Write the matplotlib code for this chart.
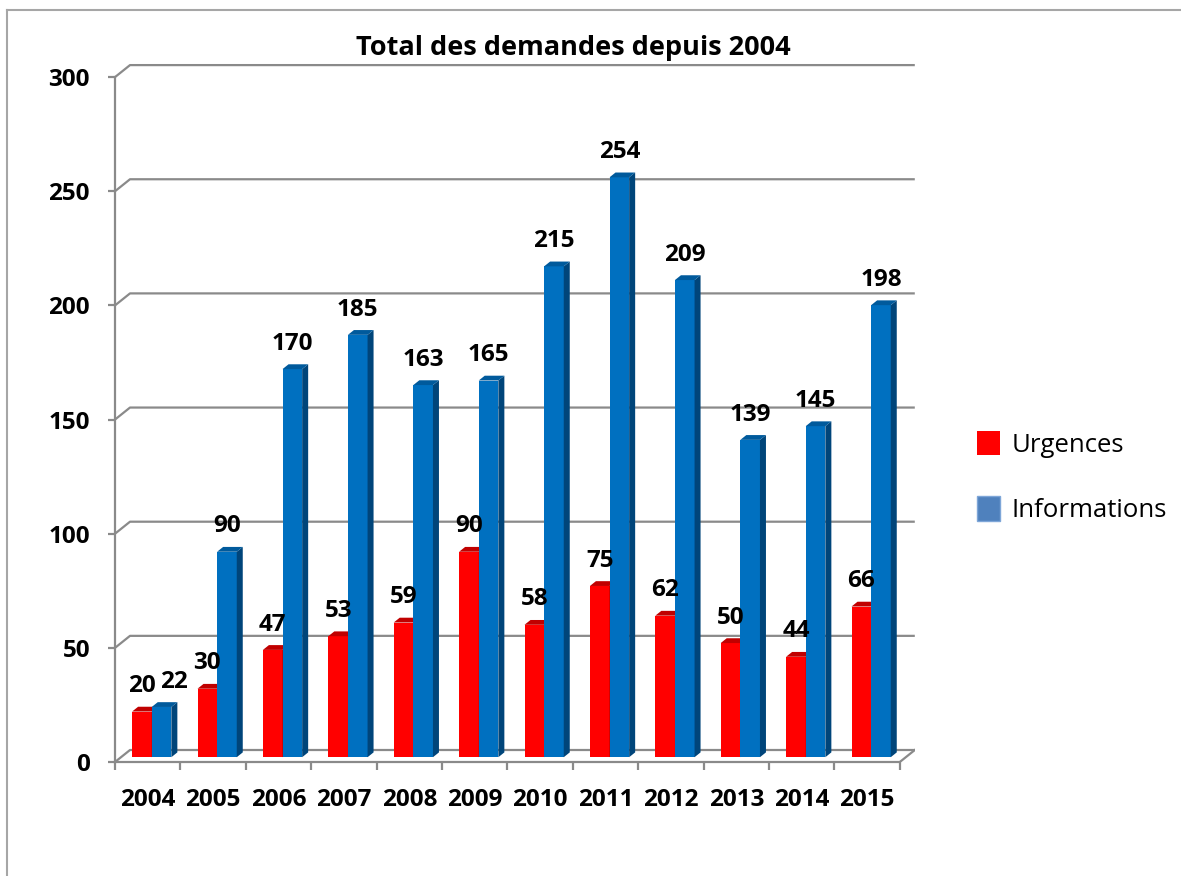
import matplotlib
matplotlib.use('Agg')
import matplotlib.pyplot as plt
from matplotlib.patches import Polygon, Patch
from matplotlib.lines import Line2D

plt.rcParams['font.family'] = ['Open Sans', 'DejaVu Sans']

years = ['2004', '2005', '2006', '2007', '2008', '2009',
         '2010', '2011', '2012', '2013', '2014', '2015']
urgences = [20, 30, 47, 53, 59, 90, 58, 75, 62, 50, 44, 66]
informations = [22, 90, 170, 185, 163, 165, 215, 254, 209, 139, 145, 198]
y_ticks = [0, 50, 100, 150, 200, 250, 300]

W, H = 1181, 876
PX_X = 65.4    # pixels per category
PX_Y = 2.283   # pixels per unit
DX = 15 / PX_X  # depth of the floor, in data units
DY = 12 / PX_Y
F0, F1 = 0.4, 0.8   # bars sit between these fractions of the depth
BW = 0.3
GRID = '#8a8a8a'
FS = 17.5

fig = plt.figure(figsize=(W / 100, H / 100), dpi=100)
ax_l, ax_b, ax_w, ax_h = 115, 114, 800, 707
ax = fig.add_axes([ax_l / W, ax_b / H, ax_w / W, ax_h / H])
ax.set_xlim(0, ax_w / PX_X)
ax.set_ylim(0, ax_h / PX_Y)
ax.patch.set_visible(False)
n = len(years)

# back wall grid with the little side-wall diagonals
for v in y_ticks:
    ax.plot([0, DX, n + DX], [v, v + DY, v + DY], color=GRID, lw=1.6,
            solid_capstyle='butt', zorder=1)
ax.plot([n, n + DX], [0, DY], color=GRID, lw=1.6, zorder=1)

# axes lines and ticks
for s in ['top', 'right']:
    ax.spines[s].set_visible(False)
ax.spines['left'].set_bounds(0, 300)
ax.spines['bottom'].set_bounds(0, n)
for s in ['left', 'bottom']:
    ax.spines[s].set_color(GRID)
    ax.spines[s].set_linewidth(1.6)
ax.set_yticks(y_ticks)
ax.set_yticklabels([str(v) for v in y_ticks], fontsize=FS, fontweight='bold')
ax.tick_params(axis='y', length=5, width=1.6, color=GRID, pad=13)
ax.set_xticks([i + 0.5 for i in range(n)])
ax.set_xticklabels(years, fontsize=FS, fontweight='bold')
ax.set_xticks(range(n + 1), minor=True)
ax.tick_params(axis='x', which='major', length=0, pad=19)
ax.tick_params(axis='x', which='minor', length=6, width=1.6, color=GRID)


def bar3d(x, v, front, top, side, z):
    sx, sy = F0 * DX, F0 * DY
    ddx, ddy = (F1 - F0) * DX, (F1 - F0) * DY
    ax.bar(x + sx, v, width=BW, bottom=sy, align='edge', color=front,
           linewidth=0, zorder=z)
    ax.add_patch(Polygon([(x + sx + BW, sy), (x + sx + BW + ddx, sy + ddy),
                          (x + sx + BW + ddx, v + sy + ddy), (x + sx + BW, v + sy)],
                         closed=True, facecolor=side, lw=0, zorder=z))
    ax.add_patch(Polygon([(x + sx, v + sy), (x + sx + ddx, v + sy + ddy),
                          (x + sx + BW + ddx, v + sy + ddy), (x + sx + BW, v + sy)],
                         closed=True, facecolor=top, lw=0, zorder=z))
    return x + sx + BW / 2, v + sy + ddy


gap = 14.5 / PX_Y
for i in range(n):
    u, inf = urgences[i], informations[i]
    cx1, ty1 = bar3d(i + 0.17, u, '#ff0000', '#c00000', '#a00000', 2 + i * 0.01)
    cx2, ty2 = bar3d(i + 0.17 + BW, inf, '#0070c0', '#005a9c', '#00457a', 2.005 + i * 0.01)
    nudge = 12 / PX_X if abs(u - inf) < 10 else 0
    ax.text(cx1, ty1 + gap, str(u), ha='center', va='baseline',
            fontsize=FS, fontweight='bold', zorder=5)
    ax.text(cx2 + nudge, ty2 + gap, str(inf), ha='center', va='baseline',
            fontsize=FS, fontweight='bold', zorder=5)

fig.text(573 / W, 1 - 48 / H, 'Total des demandes depuis 2004', ha='center',
         va='center', fontsize=19.5, fontweight='bold')

handles = [Patch(facecolor='#ff0000', label='Urgences'),
           Patch(facecolor='#4f81bd', edgecolor='#7ea6d8', label='Informations')]
fig.legend(handles=handles, loc='center left', bbox_to_anchor=(977 / W, 1 - 477 / H),
           frameon=False, fontsize=18.5, handlelength=0.9, handleheight=1.1,
           handletextpad=0.45, labelspacing=1.5, borderpad=0, borderaxespad=0)

# chart border (only top and left edges are in view)
fig.add_artist(Line2D([7 / W, 1], [1 - 10 / H, 1 - 10 / H], color='#a6a6a6', lw=1.5))
fig.add_artist(Line2D([7 / W, 7 / W], [0, 1 - 10 / H], color='#a6a6a6', lw=1.5))

fig.savefig('out.png', dpi=100)
